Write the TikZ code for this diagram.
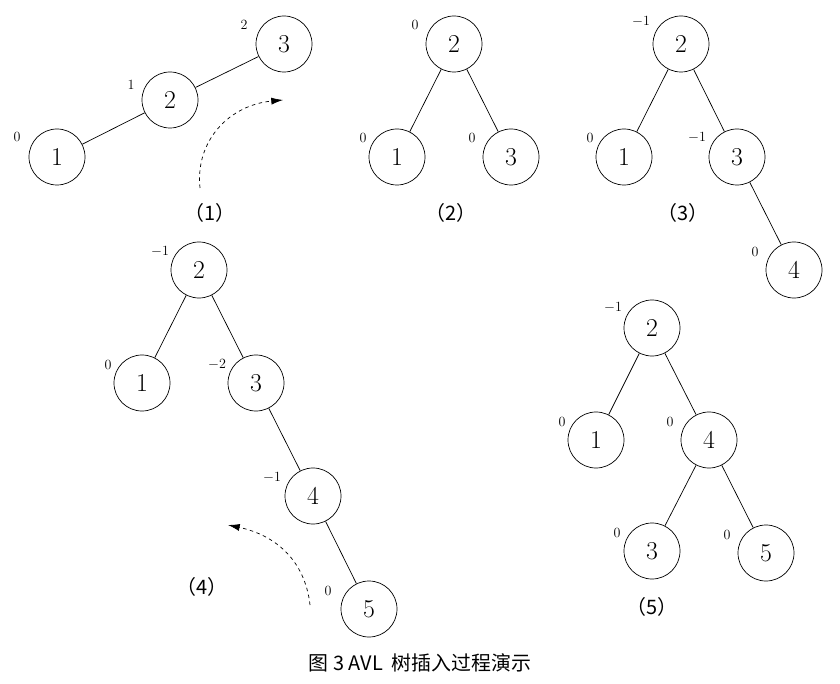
\documentclass[tikz,border=0pt]{standalone}
\usepackage{fontspec}
\newfontfamily\cjk{Noto Sans CJK SC}
\usetikzlibrary{arrows.meta}
\begin{document}
\begin{tikzpicture}[x=0.03cm,y=-0.03cm,
  nd/.style={circle,draw,line width=0.6pt,minimum size=1.68cm,inner sep=0pt,font=\fontsize{22}{24}\selectfont},
  bf/.style={font=\fontsize{12}{14}\selectfont,inner sep=0pt},
  captxt/.style={font=\cjk\fontsize{17}{20}\selectfont,inner sep=0pt},
  ed/.style={line width=0.6pt},
  da/.style={dashed,line width=0.6pt,-{Latex[length=10pt,width=6pt]}}]
\useasboundingbox (0,0) rectangle (840,684);
% tree 1
\node[nd] (a1) at (57,157) {1};
\node[nd] (a2) at (170,100) {2};
\node[nd] (a3) at (284,44) {3};
\draw[ed] (a1)--(a2) (a2)--(a3);
\node[bf] (la1) at (17,137) {0};
\node[bf] (la2) at (131,85) {1};
\node[bf] (la3) at (244,25) {2};
\coordinate (s1) at (200,188); \coordinate (e1) at (283,100);
\draw[da] (s1) .. controls (195,140) and (230,105) .. (e1);
\node[captxt] (c1) at (210,213) {（1）};
% tree 2
\node[nd] (b2) at (454,44) {2};
\node[nd] (b1) at (397,157) {1};
\node[nd] (b3) at (511,157) {3};
\draw[ed] (b2)--(b1) (b2)--(b3);
\node[bf] (lb2) at (415,25) {0};
\node[bf] (lb1) at (363,138) {0};
\node[bf] (lb3) at (472,138) {0};
\node[captxt] (c2) at (451,213) {（2）};
% tree 3
\node[nd] (d2) at (681,44) {2};
\node[nd] (d1) at (624,157) {1};
\node[nd] (d3) at (737,157) {3};
\node[nd] (d4) at (794,270) {4};
\draw[ed] (d2)--(d1) (d2)--(d3) (d3)--(d4);
\node[bf] (ld2) at (641,22) {$-1$};
\node[bf] (ld1) at (590,138) {0};
\node[bf] (ld3) at (697,138) {$-1$};
\node[bf] (ld4) at (755,252) {0};
\node[captxt] (c3) at (683,213) {（3）};
% tree 4
\node[nd] (f2) at (199,270) {2};
\node[nd] (f1) at (142,383) {1};
\node[nd] (f3) at (256,383) {3};
\node[nd] (f4) at (313,496) {4};
\node[nd] (f5) at (369,609) {5};
\draw[ed] (f2)--(f1) (f2)--(f3) (f3)--(f4) (f4)--(f5);
\node[bf] (lf2) at (160,252) {$-1$};
\node[bf] (lf1) at (108,365) {0};
\node[bf] (lf3) at (217,365) {$-2$};
\node[bf] (lf4) at (272,478) {$-1$};
\node[bf] (lf5) at (328,591) {0};
\coordinate (s4) at (310,605); \coordinate (e4) at (228,525);
\draw[da] (s4) .. controls (305,560) and (275,535) .. (e4);
\node[captxt] (c4) at (202,587) {（4）};
% tree 5
\node[nd] (g2) at (652,328) {2};
\node[nd] (g1) at (596,440) {1};
\node[nd] (g4) at (709,440) {4};
\node[nd] (g3) at (652,551) {3};
\node[nd] (g5) at (766,553) {5};
\draw[ed] (g2)--(g1) (g2)--(g4) (g4)--(g3) (g4)--(g5);
\node[bf] (lg2) at (613,308) {$-1$};
\node[bf] (lg1) at (562,422) {0};
\node[bf] (lg4) at (670,422) {0};
\node[bf] (lg3) at (617,533) {0};
\node[bf] (lg5) at (727,535) {0};
\node[captxt] (c5) at (652,607) {（5）};
\node[captxt] (capn) at (420,663) {图 3 AVL\ \ 树插入过程演示};
\end{tikzpicture}
\end{document}
